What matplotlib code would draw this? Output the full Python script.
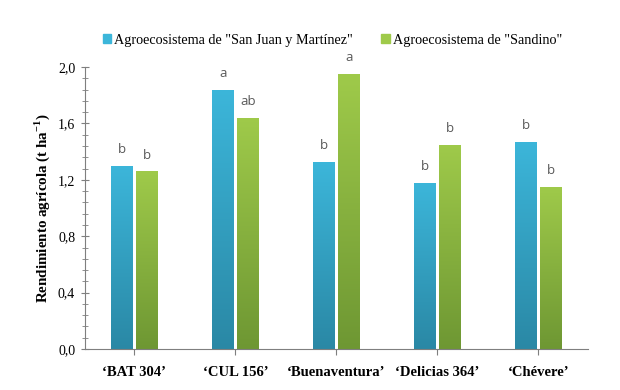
import numpy as np
import matplotlib
matplotlib.use("Agg")
import matplotlib.pyplot as plt
from matplotlib.colors import LinearSegmentedColormap
from matplotlib.ticker import MultipleLocator, FuncFormatter

cultivars = ["\u2018BAT 304\u2019", "\u2018CUL 156\u2019", "\u2018Buenaventura\u2019",
             "\u2018Delicias 364\u2019", "\u2018Ch\u00e9vere\u2019"]
san_juan = [1.30, 1.84, 1.33, 1.18, 1.47]
sandino = [1.26, 1.64, 1.95, 1.45, 1.15]
letters_sj = ["b", "a", "b", "b", "b"]
letters_sa = ["b", "ab", "a", "b", "b"]
series_names = ['Agroecosistema de "San Juan y Mart\u00ednez"', 'Agroecosistema de "Sandino"']

serif = ["Liberation Serif", "DejaVu Serif"]
blue_top, blue_bot = "#3cb6da", "#2a88a5"
green_top, green_bot = "#9fca4a", "#6e9733"

fig = plt.figure(figsize=(6.2, 3.9), dpi=100)
ax = fig.add_axes([0.137, 0.105, 0.811, 0.723])

x = np.arange(len(cultivars))
w = 0.21
off = 0.125
b1 = ax.bar(x - off, san_juan, w, color=blue_top, label=series_names[0], zorder=2)
b2 = ax.bar(x + off, sandino, w, color=green_top, label=series_names[1], zorder=2)


def shade(bars, top, bot):
    cmap = LinearSegmentedColormap.from_list("g", [bot, top])
    grad = np.linspace(0, 1, 256).reshape(-1, 1)
    for p in bars:
        x0, y0 = p.get_x(), p.get_y()
        im = ax.imshow(grad, cmap=cmap, origin="lower", aspect="auto",
                       extent=[x0, x0 + p.get_width(), y0, y0 + p.get_height()], zorder=2)
        im.set_clip_path(p)
        p.set_alpha(0)


shade(b1, blue_top, blue_bot)
shade(b2, green_top, green_bot)

for bars, labs in ((b1, letters_sj), (b2, letters_sa)):
    for p, t in zip(bars, labs):
        ax.annotate(t, (p.get_x() + p.get_width() / 2, p.get_height()),
                    xytext=(0, 7), textcoords="offset points", ha="center", va="bottom",
                    fontsize=9.5, color="#595959", family=["Open Sans", "DejaVu Sans"])

ax.set_xlim(-0.49, 4.49)
ax.set_ylim(0, 2.0)
ax.yaxis.set_major_locator(MultipleLocator(0.4))
ax.yaxis.set_minor_locator(MultipleLocator(0.08))
ax.yaxis.set_major_formatter(FuncFormatter(lambda v, _: f"{v:.1f}".replace(".", ",")))
ax.set_xticks(x)
ax.set_xticklabels(cultivars, family=serif, fontweight="bold", fontsize=10.5)
for lab in ax.get_yticklabels():
    lab.set_family(serif)
    lab.set_fontsize(10)

for s in ("top", "right"):
    ax.spines[s].set_visible(False)
for s in ("left", "bottom"):
    ax.spines[s].set_color("#7f7f7f")
    ax.spines[s].set_linewidth(0.8)
ax.tick_params(axis="y", which="major", direction="inout", length=6, color="#7f7f7f", pad=4)
ax.tick_params(axis="y", which="minor", direction="inout", length=4, color="#7f7f7f")
ax.tick_params(axis="x", direction="out", length=4, color="#7f7f7f", pad=8)

ax.set_ylabel("Rendimiento agr\u00edcola (t ha$^{\\mathregular{-1}}$)", family=serif,
              fontweight="bold", fontsize=10.8, labelpad=4)

leg = fig.legend(handles=[b1, b2], loc="center", bbox_to_anchor=(0.536, 0.897), ncol=2,
                 frameon=False, prop={"family": serif, "size": 10.2}, handlelength=0.6,
                 handleheight=0.6, handletextpad=0.2, columnspacing=2.0)
for h, c in zip(leg.legend_handles, (blue_top, green_top)):
    h.set_alpha(1)
    h.set_color(c)

fig.savefig("out.png", dpi=100)
